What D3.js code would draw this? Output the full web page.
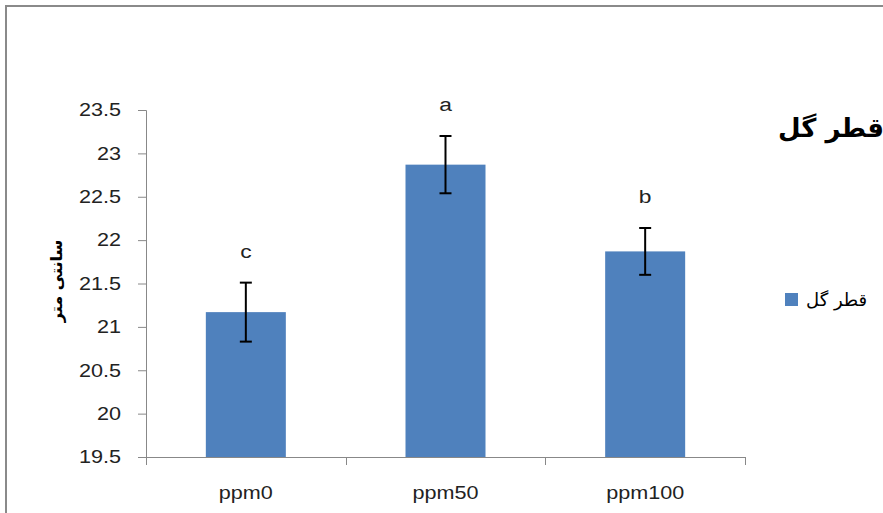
<!DOCTYPE html>
<html><head><meta charset="utf-8">
<script src="https://cdn.jsdelivr.net/npm/d3@7/dist/d3.min.js"></script>
<style>body{margin:0;background:#fff}svg{display:block}</style>
</head><body>
<svg id="c" width="883" height="513"></svg>
<script>
const categories = ["ppm0", "ppm50", "ppm100"];
const values = [21.17, 22.87, 21.87];
const errors = [0.34, 0.33, 0.27];
const letters = ["c", "a", "b"];
const yTicks = [19.5, 20, 20.5, 21, 21.5, 22, 22.5, 23, 23.5];
const seriesName = "قطر گل";
const yLabel = "سانتی متر";

const svg = d3.select("#c");
const font = "'Liberation Sans',Arial,sans-serif";
const sx = 1.2; // horizontally stretched look of the reference

svg.append("rect").attr("x", 6).attr("y", 6).attr("width", 900).attr("height", 520)
  .attr("fill", "none").attr("stroke", "#8a8a8a").attr("stroke-width", 2);

const y = d3.scaleLinear().domain([19.5, 23.5]).range([457, 110]);

const yAxis = svg.append("g").attr("transform", "translate(146,0)")
  .call(d3.axisLeft(y).tickValues(yTicks).tickFormat(d3.format("")).tickSize(8).tickPadding(0));
yAxis.select(".domain").attr("stroke", "#888").attr("d", "M-8,110.5H0.5V457.5H-8");
yAxis.selectAll(".tick line").attr("stroke", "#888");
yAxis.selectAll("text").attr("font-family", font).attr("font-size", 18).attr("fill", "#222")
  .attr("x", -25 / sx).attr("transform", `scale(${sx},1)`);

// x axis with category boundary ticks
const xBase = svg.append("g");
xBase.append("line").attr("x1", 146).attr("x2", 745).attr("y1", 457.5).attr("y2", 457.5).attr("stroke", "#888");
const step = (745 - 146) / categories.length;
categories.concat([null]).forEach((c, i) => {
  const bx = Math.round(146 + i * step) + 0.5;
  xBase.append("line").attr("x1", bx).attr("x2", bx).attr("y1", 457).attr("y2", 465).attr("stroke", "#888");
});
const xc = d3.scalePoint().domain(categories).range([146 + step / 2, 745 - step / 2]);
xBase.selectAll("text.xl").data(categories).join("text")
  .attr("transform", d => `translate(${xc(d)},499) scale(${sx},1)`).attr("text-anchor", "middle")
  .attr("font-family", font).attr("font-size", 18).attr("fill", "#222").text(d => d);

// bars
const bw = 80;
svg.selectAll("rect.bar").data(values).join("rect")
  .attr("x", (d, i) => xc(categories[i]) - bw / 2).attr("width", bw)
  .attr("y", d => y(d)).attr("height", d => y(19.5) - y(d))
  .attr("fill", "#4f81bd");

// error bars
const eb = svg.append("g").attr("stroke", "#000").attr("stroke-width", 2);
values.forEach((v, i) => {
  const cx = xc(categories[i]);
  eb.append("line").attr("x1", cx).attr("x2", cx).attr("y1", y(v + errors[i])).attr("y2", y(v - errors[i]));
  [v + errors[i], v - errors[i]].forEach(e => {
    eb.append("line").attr("x1", cx - 6).attr("x2", cx + 6).attr("y1", y(e)).attr("y2", y(e));
  });
  svg.append("text").attr("transform", `translate(${cx},${y(v + errors[i]) - 25}) scale(${sx},1)`)
    .attr("text-anchor", "middle")
    .attr("font-family", font).attr("font-size", 19).attr("fill", "#222").text(letters[i]);
});

// y label
svg.append("text").attr("transform", "translate(62,281) rotate(-90)").attr("text-anchor", "middle")
  .attr("font-family", "'DejaVu Sans','Noto Sans',sans-serif").attr("font-weight", "bold").attr("font-size", 16)
  .text(yLabel);

// title
svg.append("text").attr("x", 778).attr("y", 137)
  .attr("font-family", "'DejaVu Sans','Noto Sans',sans-serif").attr("font-weight", "bold").attr("font-size", 26)
  .attr("direction", "rtl").attr("text-anchor", "end")
  .text(seriesName);

// legend
svg.append("rect").attr("x", 785).attr("y", 293).attr("width", 13).attr("height", 13).attr("fill", "#4f81bd");
svg.append("text").attr("x", 806).attr("y", 306).attr("direction", "rtl").attr("text-anchor", "end")
  .attr("font-family", "'DejaVu Sans','Noto Sans',sans-serif").attr("font-size", 18).text(seriesName);
</script>
</body></html>
